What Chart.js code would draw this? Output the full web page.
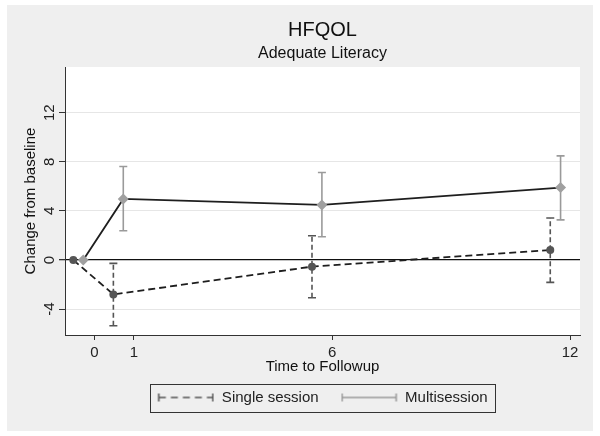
<!DOCTYPE html>
<html>
<head>
<meta charset="utf-8">
<script src="https://cdn.jsdelivr.net/npm/chart.js@4.4.1/dist/chart.umd.min.js"></script>
<style>
  html, body { margin: 0; padding: 0; background: #ffffff; }
  #wrap { position: absolute; left: 7px; top: 5px; width: 586px; height: 426px; background: #efefef; }
  canvas { display: block; }
</style>
</head>
<body>
<div id="wrap"><canvas id="c" width="586" height="426"></canvas></div>
<script>
// ---- data ----
const chartTitle = 'HFQOL';
const chartSubtitle = 'Adequate Literacy';
const xAxisTitle = 'Time to Followup';
const yAxisTitle = 'Change from baseline';
const xTickValues = [0, 1, 6, 12];
const yTickValues = [-4, 0, 4, 8, 12];
const seriesNames = ['Single session', 'Multisession'];

const singleX  = [-0.53, 0.48, 5.49, 11.50];
const singleY  = [0, -2.80, -0.54, 0.82];
const singleLo = [null, -5.36, -3.08, -1.82];
const singleHi = [null, -0.27, 1.98, 3.43];

const multiX  = [-0.28, 0.73, 5.74, 11.76];
const multiY  = [0, 4.98, 4.49, 5.90];
const multiLo = [null, 2.39, 1.90, 3.27];
const multiHi = [null, 7.62, 7.13, 8.49];

const FONT = "'Liberation Sans', Arial, sans-serif";

function pts(xs, ys) { return xs.map((x, i) => ({ x: x, y: ys[i] })); }

function makeSymbol(color, dashed) {
  const c = document.createElement('canvas');
  c.width = 57; c.height = 12;
  const g = c.getContext('2d');
  g.strokeStyle = color; g.lineWidth = 1.5;
  g.beginPath(); g.moveTo(1.5, 2); g.lineTo(1.5, 10); g.moveTo(55.5, 2); g.lineTo(55.5, 10); g.stroke();
  g.setLineDash(dashed ? [7, 5] : []);
  g.beginPath(); g.moveTo(1.5, 6); g.lineTo(55.5, 6); g.stroke();
  return c;
}
const symbols = [makeSymbol('#555555', true), makeSymbol('#9a9a9a', false)];

const errorBarPlugin = {
  id: 'errorBars',
  beforeDatasetsDraw(chart) {
    const { ctx, scales: { x, y } } = chart;
    chart.data.datasets.forEach((ds) => {
      const lo = ds.errLo, hi = ds.errHi;
      ctx.save();
      ctx.strokeStyle = ds.errColor;
      ctx.lineWidth = 1.6;
      ds.data.forEach((p, i) => {
        if (lo[i] == null) return;
        const px = x.getPixelForValue(p.x);
        const y1 = y.getPixelForValue(lo[i]);
        const y2 = y.getPixelForValue(hi[i]);
        ctx.setLineDash(ds.errDash);
        ctx.beginPath(); ctx.moveTo(px, y1); ctx.lineTo(px, y2); ctx.stroke();
        ctx.setLineDash([]);
        ctx.beginPath();
        ctx.moveTo(px - 4, y1); ctx.lineTo(px + 4, y1);
        ctx.moveTo(px - 4, y2); ctx.lineTo(px + 4, y2);
        ctx.stroke();
      });
      ctx.restore();
    });
  }
};

const bgPlugin = {
  id: 'plotBg',
  beforeDraw(chart) {
    const { ctx, chartArea: a } = chart;
    ctx.save();
    ctx.fillStyle = '#ffffff';
    ctx.fillRect(a.left, a.top, a.right - a.left, a.bottom - a.top);
    ctx.restore();
  },
  afterDraw(chart) {
    const lg = chart.legend;
    if (!lg || !lg.legendHitBoxes || !lg.legendHitBoxes.length) return;
    const hb = lg.legendHitBoxes;
    const first = hb[0], last = hb[hb.length - 1];
    const cy = first.top + first.height / 2;
    const ctx = chart.ctx;
    ctx.save();
    ctx.strokeStyle = '#333333';
    ctx.lineWidth = 1;
    const l = Math.round(first.left - 7) + 0.5;
    const r = Math.round(last.left + last.width + 7) + 0.5;
    const t = Math.round(cy - 14) + 0.5;
    const b = Math.round(cy + 14) + 0.5;
    ctx.strokeRect(l, t, r - l, b - t);
    ctx.restore();
  }
};

new Chart(document.getElementById('c'), {
  type: 'line',
  data: {
    datasets: [
      {
        label: seriesNames[0],
        data: pts(singleX, singleY),
        errLo: singleLo, errHi: singleHi,
        errColor: '#555555', errDash: [5, 3],
        borderColor: '#1e1e1e',
        borderWidth: 1.8,
        borderDash: [7, 4],
        pointStyle: 'circle',
        pointRadius: 4,
        pointBackgroundColor: '#555555',
        pointBorderColor: '#555555',
        pointBorderWidth: 0,
        tension: 0,
        fill: false
      },
      {
        label: seriesNames[1],
        data: pts(multiX, multiY),
        errLo: multiLo, errHi: multiHi,
        errColor: '#9a9a9a', errDash: [],
        borderColor: '#1e1e1e',
        borderWidth: 1.8,
        pointStyle: 'rectRot',
        pointRadius: 5.5,
        pointBackgroundColor: '#a0a0a0',
        pointBorderColor: '#a0a0a0',
        pointBorderWidth: 0,
        tension: 0,
        fill: false
      }
    ]
  },
  plugins: [bgPlugin, errorBarPlugin],
  options: {
    responsive: false,
    animation: false,
    events: [],
    layout: { padding: { left: 0, right: 13, top: 0, bottom: 16 } },
    plugins: {
      tooltip: { enabled: false },
      title: {
        display: true, text: chartTitle, fullSize: false,
        color: '#111111',
        font: { family: FONT, size: 20, weight: 'normal', lineHeight: 1.2 },
        padding: { top: 13, bottom: 0 }
      },
      subtitle: {
        display: true, text: chartSubtitle, fullSize: false,
        color: '#111111',
        font: { family: FONT, size: 16, weight: 'normal', lineHeight: 1.2 },
        padding: { top: 2, bottom: 3.8 }
      },
      legend: {
        display: true, position: 'bottom', fullSize: false,
        labels: {
          usePointStyle: true,
          pointStyleWidth: 57,
          padding: 22,
          color: '#222222',
          font: { family: FONT, size: 15 },
          generateLabels(chart) {
            return chart.data.datasets.map((ds, i) => ({
              text: ds.label,
              pointStyle: symbols[i],
              fontColor: '#222222',
              fillStyle: 'rgba(0,0,0,0)',
              strokeStyle: 'rgba(0,0,0,0)',
              lineWidth: 0,
              hidden: false,
              datasetIndex: i
            }));
          }
        }
      }
    },
    scales: {
      x: {
        type: 'linear',
        min: -0.74, max: 12.25,
        afterBuildTicks(scale) { scale.ticks = xTickValues.map(v => ({ value: v })); },
        afterFit(scale) { scale.height = 33; },
        border: { display: true, color: '#333333', width: 1 },
        grid: { drawOnChartArea: false, drawTicks: true, tickLength: 5, tickColor: '#333333' },
        ticks: { color: '#222222', font: { family: FONT, size: 15 }, padding: 3.5, maxRotation: 0, autoSkip: false },
        title: {
          display: true, text: xAxisTitle, color: '#111111',
          font: { family: FONT, size: 15, lineHeight: 1.2 },
          padding: { top: 0, bottom: -7.5 }
        }
      },
      y: {
        type: 'linear',
        min: -6.11, max: 15.73,
        afterBuildTicks(scale) { scale.ticks = yTickValues.map(v => ({ value: v })); },
        afterFit(scale) { scale.width = 58; },
        border: { display: true, color: '#333333', width: 1 },
        grid: {
          drawOnChartArea: true, drawTicks: true, tickLength: 6,
          tickColor: '#333333',
          color: (c) => (c.tick && c.tick.value === 0) ? '#111111' : '#e6e6e6',
          lineWidth: (c) => (c.tick && c.tick.value === 0) ? 1.3 : 1
        },
        ticks: {
          color: '#222222', font: { family: FONT, size: 15 },
          minRotation: 90, maxRotation: 90, crossAlign: 'center', padding: 1, autoSkip: false
        },
        title: {
          display: true, text: yAxisTitle, color: '#111111',
          font: { family: FONT, size: 15, lineHeight: 1.2 },
          padding: { top: 15, bottom: 0 }
        }
      }
    }
  }
});
</script>
</body>
</html>
